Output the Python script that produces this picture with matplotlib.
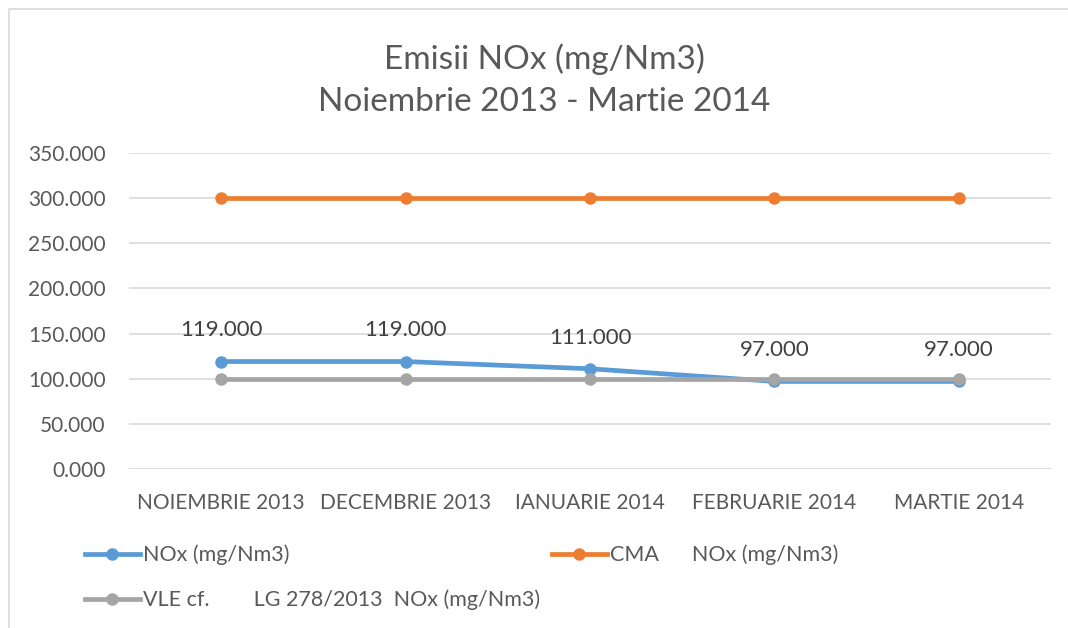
import matplotlib
matplotlib.use('Agg')
from matplotlib import pyplot as plt
from matplotlib.patches import Rectangle

months = ['NOIEMBRIE 2013', 'DECEMBRIE 2013', 'IANUARIE 2014', 'FEBRUARIE 2014', 'MARTIE 2014']
nox = [119, 119, 111, 97, 97]
cma = [300, 300, 300, 300, 300]
vle = [100, 100, 100, 100, 100]
yticks = [0, 50, 100, 150, 200, 250, 300, 350]

plt.rcParams['font.family'] = ['Lato', 'DejaVu Sans']
txt = '#595959'

fig = plt.figure(figsize=(10.68, 6.28), dpi=100)
ax = fig.add_axes([0.1208, 0.2532, 0.8632, 0.5032])

# rama graficului
fig.patches.append(Rectangle((9 / 1068, -0.1), 1.2, 1.1 - 9 / 628,
                             transform=fig.transFigure, fill=False,
                             edgecolor='#D9D9D9', linewidth=1.2))

x = range(len(months))
l1, = ax.plot(x, nox, color='#5B9BD5', linewidth=3.4, marker='o', markersize=8, zorder=3)
l2, = ax.plot(x, cma, color='#ED7D31', linewidth=3.4, marker='o', markersize=8, zorder=4)
l3, = ax.plot(x, vle, color='#A5A5A5', linewidth=3.4, marker='o', markersize=8, zorder=5)

for i, v in enumerate(nox):
    ax.annotate('{:.3f}'.format(v), (i, v), xytext=(0, 22.5), textcoords='offset points',
                ha='center', va='center', fontsize=16, color='#404040')

ax.set_xlim(-0.5, len(months) - 0.5)
ax.set_ylim(0, 350)
ax.set_yticks(yticks)
ax.set_yticklabels(['{:.3f}'.format(t) for t in yticks])
ax.set_xticks(list(x))
ax.set_xticklabels(months)
ax.tick_params(axis='both', length=0, labelsize=15, labelcolor=txt)
ax.tick_params(axis='x', pad=17)
ax.tick_params(axis='y', pad=17)
ax.grid(axis='y', color='#D9D9D9', linewidth=1.2)
ax.set_axisbelow(True)
for s in ax.spines.values():
    s.set_visible(False)

fig.text(0.510, 0.905, 'Emisii NOx (mg/Nm3)', ha='center', va='center', fontsize=24, color=txt)
fig.text(0.510, 0.838, 'Noiembrie 2013 - Martie 2014', ha='center', va='center', fontsize=24, color=txt)

# legenda
def leg(h, label, xa, ya):
    lg = fig.legend([h], [label], loc='center left', bbox_to_anchor=(xa, ya),
                    frameon=False, fontsize=15.5, handlelength=2.55, handletextpad=0.15,
                    borderpad=0, labelcolor=txt)
    return lg

leg(l1, 'NOx (mg/Nm3)', 74 / 1068, 1 - 555 / 628)
leg(l2, 'CMA      NOx (mg/Nm3)', 541 / 1068, 1 - 555 / 628)
leg(l3, 'VLE cf.        LG 278/2013  NOx (mg/Nm3)', 74 / 1068, 1 - 600 / 628)

fig.savefig('out.png', dpi=100)
